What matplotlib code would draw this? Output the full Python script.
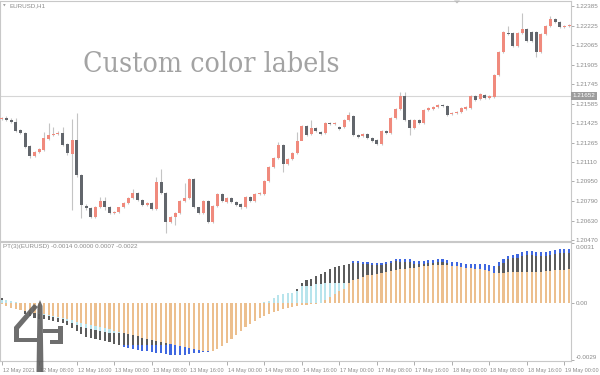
import matplotlib
matplotlib.use("Agg")
import matplotlib.pyplot as plt
from matplotlib.patches import Polygon
from matplotlib.transforms import ScaledTranslation

# ---------------- data ----------------
opens = [1.21461,1.21471,1.21455,1.21434,1.21371,1.21344,1.21240,1.21158,1.21193,1.21207,
         1.21297,1.21327,1.21338,1.21349,1.21254,1.21174,1.21289,1.21003,1.20751,1.20730,
         1.20657,1.20743,1.20790,1.20743,1.20689,1.20697,1.20738,1.20771,1.20812,1.20853,
         1.20798,1.20757,1.20776,1.20724,1.20943,1.20858,1.20616,1.20657,1.20689,1.20792,
         1.20812,1.20970,1.20738,1.20689,1.20790,1.20621,1.20751,1.20847,1.20779,1.20817,
         1.20784,1.20763,1.20743,1.20820,1.20792,1.20845,1.20847,1.20956,1.21066,1.21144,
         1.21246,1.21093,1.21131,1.21185,1.21285,1.21403,1.21336,1.21389,1.21357,1.21344,
         1.21430,1.21420,1.21393,1.21393,1.21452,1.21485,1.21330,1.21322,1.21336,1.21308,
         1.21289,1.21256,1.21365,1.21349,1.21466,1.21543,1.21651,1.21455,1.21385,1.21455,
         1.21430,1.21534,1.21545,1.21556,1.21575,1.21565,1.21499,1.21507,1.21515,1.21545,
         1.21548,1.21651,1.21622,1.21657,1.21632,1.21643,1.21821,1.22011,1.22167,1.22167,
         1.22060,1.22167,1.22197,1.22170,1.22170,1.22006,1.22153,1.22221,1.22279,1.22252,
         1.22216,1.22224]
highs = [1.21480,1.21482,1.21466,1.21470,1.21382,1.21352,1.21250,1.21202,1.21225,1.21357,
         1.21430,1.21398,1.21360,1.21398,1.21262,1.21461,1.21510,1.21010,1.20765,1.20740,
         1.20752,1.20825,1.20825,1.20750,1.20705,1.20745,1.20780,1.20826,1.20886,1.20862,
         1.20805,1.20785,1.20785,1.20989,1.21049,1.20865,1.20665,1.20697,1.20800,1.20935,
         1.20980,1.20978,1.20745,1.20800,1.20798,1.20760,1.20856,1.20856,1.20826,1.20826,
         1.20792,1.20770,1.20828,1.20828,1.20856,1.20862,1.20965,1.21075,1.21152,1.21275,
         1.21255,1.21142,1.21193,1.21357,1.21412,1.21412,1.21452,1.21398,1.21365,1.21438,
         1.21438,1.21438,1.21402,1.21460,1.21518,1.21494,1.21338,1.21344,1.21344,1.21316,
         1.21297,1.21373,1.21373,1.21480,1.21552,1.21684,1.21684,1.21463,1.21463,1.21463,
         1.21542,1.21556,1.21564,1.21583,1.21583,1.21573,1.21520,1.21528,1.21556,1.21564,
         1.21659,1.21659,1.21673,1.21665,1.21657,1.21829,1.22019,1.22178,1.22221,1.22175,
         1.22175,1.22328,1.22205,1.22178,1.22178,1.22161,1.22232,1.22303,1.22287,1.22260,
         1.22232,1.22240]
lows = [1.21452,1.21448,1.21425,1.21355,1.21335,1.21225,1.21145,1.21150,1.21185,1.21200,
        1.21290,1.21320,1.21330,1.21240,1.21170,1.20716,1.20990,1.20651,1.20720,1.20650,
        1.20650,1.20735,1.20716,1.20680,1.20680,1.20690,1.20730,1.20765,1.20805,1.20790,
        1.20750,1.20750,1.20716,1.20716,1.20850,1.20526,1.20608,1.20594,1.20680,1.20785,
        1.20805,1.20730,1.20680,1.20680,1.20612,1.20612,1.20743,1.20785,1.20770,1.20770,
        1.20750,1.20728,1.20735,1.20785,1.20785,1.20838,1.20840,1.20948,1.21058,1.21136,
        1.21030,1.21085,1.21123,1.21177,1.21287,1.21322,1.21328,1.21357,1.21330,1.21336,
        1.21412,1.21412,1.21368,1.21385,1.21444,1.21322,1.21308,1.21314,1.21300,1.21275,
        1.21248,1.21248,1.21336,1.21340,1.21458,1.21535,1.21447,1.21330,1.21377,1.21422,
        1.21422,1.21526,1.21537,1.21548,1.21557,1.21485,1.21491,1.21499,1.21507,1.21537,
        1.21540,1.21608,1.21614,1.21627,1.21624,1.21635,1.21813,1.22003,1.22148,1.22052,
        1.22052,1.22159,1.22093,1.22093,1.21968,1.21998,1.22145,1.22213,1.22244,1.22203,
        1.22208,1.22216]
closes = [1.21471,1.21455,1.21434,1.21365,1.21344,1.21234,1.21158,1.21193,1.21213,1.21308,
          1.21327,1.21338,1.21344,1.21248,1.21180,1.21289,1.21003,1.20757,1.20730,1.20657,
          1.20743,1.20790,1.20743,1.20689,1.20697,1.20738,1.20771,1.20817,1.20858,1.20798,
          1.20757,1.20776,1.20724,1.20943,1.20858,1.20616,1.20657,1.20689,1.20792,1.20812,
          1.20970,1.20738,1.20689,1.20790,1.20621,1.20751,1.20847,1.20792,1.20817,1.20779,
          1.20757,1.20738,1.20820,1.20792,1.20847,1.20853,1.20956,1.21066,1.21144,1.21246,
          1.21093,1.21134,1.21185,1.21281,1.21403,1.21330,1.21389,1.21365,1.21338,1.21430,
          1.21420,1.21430,1.21376,1.21452,1.21493,1.21330,1.21316,1.21336,1.21308,1.21283,
          1.21256,1.21365,1.21344,1.21471,1.21543,1.21651,1.21455,1.21385,1.21455,1.21430,
          1.21534,1.21548,1.21556,1.21575,1.21565,1.21493,1.21512,1.21520,1.21548,1.21556,
          1.21651,1.21616,1.21665,1.21635,1.21649,1.21821,1.22011,1.22170,1.22156,1.22060,
          1.22167,1.22197,1.22101,1.22101,1.22006,1.22153,1.22224,1.22276,1.22252,1.22211,
          1.22224,1.22232]

price_ticks = [1.22385,1.22225,1.22065,1.21905,1.21745,1.21585,1.21425,1.21265,
               1.21110,1.20950,1.20790,1.20630,1.20470]
hline_price = 1.21652

# indicator buffers, in units of 1e-4
pt_main = [3.0,2.0,1.0,-0.5,-2.5,-5.2,-6.5,-7.3,-7.8,-8.1,-8.5,-9.0,-9.5,-10.2,-11.2,-12.3,
           -14.1,-15.7,-17.1,-17.6,-18.1,-18.6,-19.1,-19.8,-20.5,-21.2,-22.0,-22.9,-23.4,
           -23.9,-24.2,-24.4,-24.7,-25.0,-25.4,-25.9,-26.3,-26.4,-26.4,-26.1,-25.8,-25.4,
           -25.0,-24.7,-24.5,-24.4,-20.8,-18.3,-15.7,-13.2,-10.7,-8.1,-6.1,-4.1,-2.5,-1.0,
           0.0,1.0,2.0,3.0,4.0,4.6,5.3,7.5,10.2,11.7,12.7,13.9,15.1,15.9,17.3,18.4,18.9,
           19.5,20.3,21.5,21.7,21.3,21.2,20.7,20.7,20.7,21.0,21.8,22.4,22.7,22.7,22.4,21.8,
           21.8,21.8,22.0,22.2,22.4,22.7,22.0,21.3,21.0,20.7,20.3,20.3,20.3,20.3,20.0,19.7,
           19.3,21.0,22.7,24.4,24.9,25.4,26.3,26.6,26.6,26.3,26.1,26.3,26.9,27.4,27.8,27.8,
           27.8]
pt_gray = [3.0,2.0,1.0,-0.5,-2.5,-5.2,-6.5,-7.3,-7.8,-8.1,-8.5,-9.0,-9.5,-10.2,-11.2,-12.3,
           -14.1,-15.7,-17.1,-17.6,-18.1,-18.6,-19.1,-19.8,-20.5,-21.2,-21.0,-21.4,-21.4,
           -21.4,-21.2,-21.4,-21.2,-21.0,-21.4,-20.9,0,0,0,0,0,0,0,0,0,0,-20.8,-18.3,-15.7,
           -13.2,-10.7,-8.1,-6.1,-4.1,-2.5,-1.0,0.0,1.0,2.0,3.0,4.0,4.6,5.3,7.5,10.2,11.7,
           12.7,13.9,15.1,15.9,17.3,18.4,18.9,19.5,20.3,20.5,20.7,20.3,20.2,19.7,19.7,19.7,
           20.0,20.8,21.4,21.2,21.2,20.9,20.3,20.3,20.3,20.5,20.7,20.9,21.2,20.5,18.3,18.0,
           17.7,17.3,17.3,17.3,0,0,0,0,19.0,20.7,22.4,22.9,23.4,24.3,24.6,24.6,24.3,24.1,
           24.3,24.9,25.4,25.8,25.8,25.8]
pt_light = [2.0,2.0,1.5,1.0,-2.0,-3.0,-4.1,-5.1,-5.6,-6.1,-6.6,-7.1,-7.6,-8.1,-9.1,-10.2,
            -11.2,-12.2,-12.7,-13.2,-13.7,-14.2,-14.7,-15.2,-15.2,-15.2,0,0,0,0,0,0,0,0,0,
            0,0,0,0,0,0,0,0,0,0,0,0,0,0,0,0,0,0,0,0,0,0.9,1.5,2.9,4.1,4.6,5.1,5.4,6.2,8.8,
            8.8,9.1,9.7,10.0,10.2,10.2,10.2,10.2,10.2,10.2,0,0,0,0,0,0,0,0,0,0,0,0,0,0,0,0,
            0,0,0,0,0,0,0,0,0,0,0,0,0,0,0,0,0,0,0,0,0,0,0,0,0,0,0,0,0,0,0]
pt_orange = [-0.5,-1.2,-2.2,-3.0,-3.4,-3.9,-4.4,-4.7,-5.1,-5.6,-5.9,-6.5,-7.0,-7.5,-8.1,-8.6,
             -9.3,-9.8,-10.3,-11.0,-11.5,-12.0,-12.7,-13.2,-13.9,-14.4,-15.1,-15.7,-16.3,
             -16.8,-17.4,-17.9,-18.4,-18.9,-19.5,-20.0,-20.5,-21.2,-21.7,-22.2,-22.7,-23.2,
             -23.7,-24.0,-24.2,-24.4,-23.4,-21.8,-20.3,-18.3,-16.3,-14.2,-12.2,-10.7,-9.1,
             -7.6,-6.6,-5.6,-4.6,-3.6,-3.0,-2.5,-2.0,-1.5,-1.0,-0.8,-0.5,-0.3,0.4,2.0,3.4,
             4.9,6.2,7.6,10.2,11.8,12.7,13.6,14.4,14.7,15.2,15.6,16.1,16.4,16.9,17.3,17.6,
             17.9,18.3,18.6,18.9,19.3,19.5,19.7,19.8,19.7,19.3,18.9,18.6,18.3,17.9,17.6,17.3,
             16.9,16.4,15.6,15.6,15.7,15.9,15.9,15.9,16.1,16.1,16.1,16.1,16.1,16.3,16.4,16.8,
             16.9,17.1,17.3]
pt_ticks = [31, 0, -29]
pt_tick_labels = ["0.0031", "0.00", "-0.0029"]

time_labels = ["12 May 2021", "12 May 08:00", "12 May 16:00", "13 May 00:00", "13 May 08:00",
               "13 May 16:00", "14 May 00:00", "14 May 08:00", "14 May 16:00", "17 May 00:00",
               "17 May 08:00", "17 May 16:00", "18 May 00:00", "18 May 08:00", "18 May 16:00",
               "19 May 00:00"]
bars_per_label = 8

symbol_text = "EURUSD,H1"
indicator_text = "PT(3)(EURUSD) -0.0014 0.0000 0.0007 -0.0022"
title_text = "Custom color labels"

# ---------------- style ----------------
UP = "#F08A7D"
DOWN = "#62666C"
WICK = "#C4C4C4"
C_BLUE = "#3F67E0"
C_GRAY = "#5C5C5C"
C_LIGHT = "#B8E4EC"
C_ORANGE = "#ECBF8E"
TXT = "#8A8A8A"
FRAME = "#C8C8C8"
FONT = "Liberation Sans"

W, H = 600, 375
fig = plt.figure(figsize=(6, 3.75), dpi=100)
fig.patch.set_facecolor("white")


def rect(x0, y0, x1, y1):
    return [x0 / W, 1 - y1 / H, (x1 - x0) / W, (y1 - y0) / H]


n = len(opens)
xs = list(range(n))
xlim = (-0.36, 121.4)

ax = fig.add_axes(rect(0, 1, 571, 241))
axi = fig.add_axes(rect(0, 242, 571, 361))

for a in (ax, axi):
    a.set_facecolor("white")
    for s in a.spines.values():
        s.set_color(FRAME)
        s.set_linewidth(0.8)
    a.set_xlim(*xlim)

# ---- candles ----
ax.vlines(xs, lows, highs, color=WICK, linewidth=0.8, zorder=2)
bodies_b = [max(abs(c - o), 0.00002) for o, c in zip(opens, closes)]
bottoms = [min(o, c) for o, c in zip(opens, closes)]
colors = [UP if c >= o else DOWN for o, c in zip(opens, closes)]
ax.bar(xs, bodies_b, bottom=bottoms, width=0.64, color=colors, linewidth=0, zorder=3)
ax.axhline(hline_price, color="#D6D6D6", linewidth=0.8, zorder=1)
ax.set_ylim(1.20463, 1.22426)
ax.yaxis.tick_right()
ax.set_yticks(price_ticks)
ax.set_yticklabels([f"{p:.5f}" for p in price_ticks])
ax.tick_params(axis="y", length=2, width=0.6, color="#A0A0A0", pad=1.5,
               labelsize=4.5, labelcolor=TXT)
for lab in ax.get_yticklabels():
    lab.set_fontfamily(FONT)
ax.set_xticks([])
ax.text(1.003, hline_price, f"{hline_price:.5f}", transform=ax.get_yaxis_transform(),
        ha="left", va="center", fontsize=4.5, color="white", family=FONT,
        bbox=dict(boxstyle="square,pad=0.25", fc="#9C9C9C", ec="none"), clip_on=False)

# ---- indicator ----
w = 0.45
axi.bar(xs, pt_main, width=w, color=C_BLUE, linewidth=0, zorder=2)
axi.bar(xs, pt_gray, width=w, color=C_GRAY, linewidth=0, zorder=3)
axi.bar(xs, pt_light, width=w, color=C_LIGHT, linewidth=0, zorder=4)
axi.bar(xs, pt_orange, width=w, color=C_ORANGE, linewidth=0, zorder=5)
axi.set_ylim(-29.3, 31.3)
axi.yaxis.tick_right()
axi.set_yticks(pt_ticks)
axi.set_yticklabels(pt_tick_labels)
axi.tick_params(axis="y", length=2, width=0.6, color="#A0A0A0", pad=1.5,
                labelsize=4.5, labelcolor=TXT)
offs = [-4.5, 0, 3.5]
for lab, dy in zip(axi.get_yticklabels(), offs):
    lab.set_fontfamily(FONT)
    lab.set_transform(lab.get_transform() + ScaledTranslation(0, dy / 100, fig.dpi_scale_trans))

tick_pos = [i * bars_per_label for i in range(len(time_labels))]
axi.set_xticks(tick_pos)
axi.set_xticklabels(time_labels)
axi.tick_params(axis="x", length=3, width=0.6, color="#A0A0A0", pad=2,
                labelsize=3.95, labelcolor=TXT)
for lab in axi.get_xticklabels():
    lab.set_fontfamily(FONT)
    lab.set_horizontalalignment("left")
    lab.set_transform(lab.get_transform() + ScaledTranslation(1 / 100, 0, fig.dpi_scale_trans))

# ---- texts ----
fig.text(10 / W, 1 - 6 / H, symbol_text, fontsize=4.5, color=TXT, family=FONT,
         va="center", ha="left")
fig.text(3 / W, 1 - 6 / H, "\u25BC", fontsize=2.5, color="#9A9A9A", va="center", ha="left")
fig.text(3 / W, 1 - 247 / H, indicator_text, fontsize=4.5, color=TXT, family=FONT,
         va="center", ha="left")

t = fig.text(83 / W, 1 - 72 / H, title_text, fontsize=22, color="#A3A3A3",
             family="DejaVu Serif", fontstretch="condensed", va="baseline", ha="left")
fig.canvas.draw()
bb = t.get_window_extent()
t.set_fontsize(22 * 255 / bb.width)

# ---- overlay: logo + marker ----
ov = fig.add_axes([0, 0, 1, 1], zorder=10)
ov.set_xlim(0, W)
ov.set_ylim(H, 0)
ov.axis("off")
ov.patch.set_alpha(0)
logo_c = "#5E5E5E"
ov.add_patch(Polygon([(40, 300), (42.5, 306), (43.5, 372), (36.5, 372), (37.5, 306)],
                     closed=True, fc=logo_c, ec="none", alpha=0.9))
ov.add_patch(Polygon([(34, 304), (38, 307), (19, 329), (19, 338), (37, 338), (37, 342),
                      (14, 342), (14, 327)], closed=True, fc=logo_c, ec="none", alpha=0.9))
ov.add_patch(Polygon([(43, 329), (58, 329), (58, 326), (63, 326), (63, 344), (50, 344),
                      (50, 340), (58, 340), (58, 333), (43, 333)], closed=True, fc=logo_c,
                     ec="none", alpha=0.9))
ov.add_patch(Polygon([(454, 0.5), (460, 0.5), (457, 3.5)], closed=True, fc="#BDBDBD", ec="none"))

fig.savefig("out.png", dpi=100, facecolor="white")
